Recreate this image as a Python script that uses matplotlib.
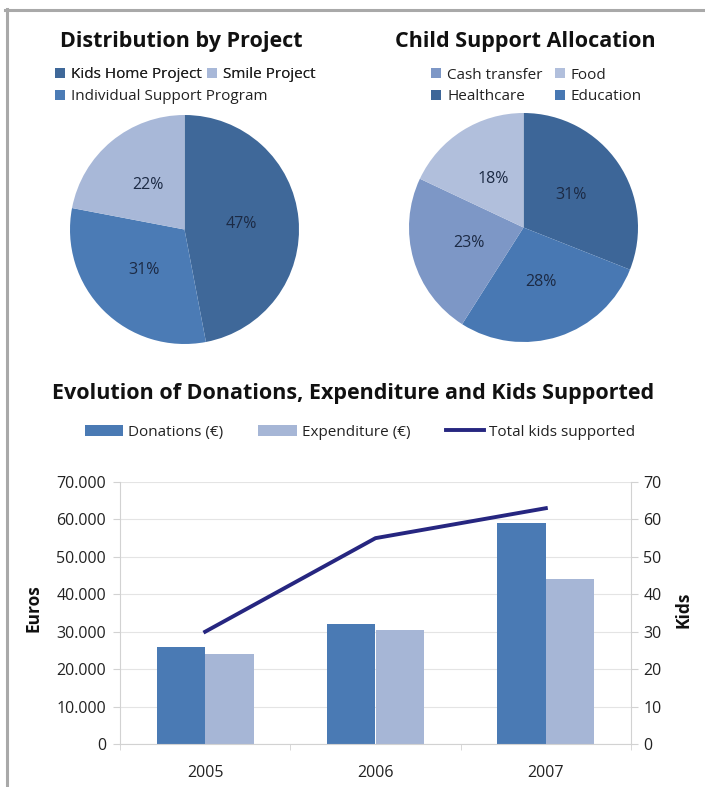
import numpy as np
import matplotlib
matplotlib.use("Agg")
import matplotlib.pyplot as plt
from matplotlib.lines import Line2D
from matplotlib.ticker import FuncFormatter, FixedLocator

plt.rcParams['font.family'] = ['Open Sans', 'DejaVu Sans']

# Data
proj_labels = ["Kids Home Project", "Individual Support Program", "Smile Project"]
proj_values = [47, 31, 22]
proj_colors = ["#3f6899", "#4b7bb5", "#a8b8d8"]

alloc_labels = ["Healthcare", "Education", "Cash transfer", "Food"]
alloc_values = [31, 28, 23, 18]
alloc_colors = ["#3d6698", "#4878b3", "#7d97c6", "#b1bfdc"]

years = ["2005", "2006", "2007"]
donations = [26000, 32000, 59000]
expenditure = [24000, 30500, 44000]
kids = [30, 55, 63]

W, H = 705, 787
fig = plt.figure(figsize=(W / 100, H / 100), dpi=100)
fig.patch.set_facecolor("white")


def fx(px):
    return px / W


def fy(py):
    return 1 - py / H


# gray frame lines (top and left)
fig.add_artist(Line2D([fx(5), 1], [fy(9.5), fy(9.5)], transform=fig.transFigure,
                      color="#a9a9a9", lw=2.2))
fig.add_artist(Line2D([fx(6.5), fx(6.5)], [0, fy(8.5)], transform=fig.transFigure,
                      color="#a9a9a9", lw=2.2))

txt_color = "#1c2a44"
pct_props = dict(color=txt_color, fontsize=11.5)

# Pie 1
ax1 = fig.add_axes([fx(70), fy(344), fx(229), 229 / H])
w1, _, _ = ax1.pie(proj_values, colors=proj_colors, startangle=90, counterclock=False,
                   autopct=lambda p: f"{p:.0f}%", pctdistance=0.5, textprops=pct_props)
ax1.set_xlim(-1, 1)
ax1.set_ylim(-1, 1)

# Pie 2
ax2 = fig.add_axes([fx(409), fy(342), fx(229), 229 / H])
w2, _, _ = ax2.pie(alloc_values, colors=alloc_colors, startangle=90, counterclock=False,
                   autopct=lambda p: f"{p:.0f}%", pctdistance=0.5, textprops=pct_props)
ax2.set_xlim(-1, 1)
ax2.set_ylim(-1, 1)

# Titles
title_props = dict(fontsize=15.5, fontweight="bold", color="#111111", ha="center", va="center")
fig.text(fx(181), fy(41), "Distribution by Project", **title_props)
fig.text(fx(525), fy(41), "Child Support Allocation", **title_props)
fig.text(fx(353), fy(393), "Evolution of Donations, Expenditure and Kids Supported", **title_props)

# pie legends
leg_kw = dict(frameon=False, fontsize=11, handlelength=0.65, handleheight=0.65,
              handletextpad=0.4, borderpad=0, borderaxespad=0, labelcolor="#222222")
lg1 = fig.legend([w1[0], w1[2]], [proj_labels[0], proj_labels[2]], ncol=2,
                 columnspacing=0.35, loc="center left",
                 bbox_to_anchor=(fx(55), fy(75)), **leg_kw)
fig.add_artist(lg1)
fig.legend([w1[1]], [proj_labels[1]], loc="center left",
           bbox_to_anchor=(fx(55), fy(97)), **leg_kw)
fig.legend([w2[2], w2[0], w2[3], w2[1]],
           [alloc_labels[2], alloc_labels[0], alloc_labels[3], alloc_labels[1]],
           ncol=2, columnspacing=0.8, labelspacing=0.45, loc="center left",
           bbox_to_anchor=(fx(431), fy(86)), **leg_kw)

# Bar chart
ax3 = fig.add_axes([fx(120), fy(744), fx(631) - fx(120), 262 / H])
ax4 = ax3.twinx()
x = np.arange(len(years))
bw = 0.285
b1 = ax3.bar(x - bw / 2, donations, bw, color="#4a7ab4", label="Donations (€)")
b2 = ax3.bar(x + bw / 2, expenditure, bw, color="#a6b6d6", label="Expenditure (€)")
l1, = ax4.plot(x, kids, color="#262680", lw=2.8, label="Total kids supported")

ax3.set_xlim(-0.5, 2.5)
ax3.set_ylim(0, 70000)
ax4.set_ylim(0, 70)
ax3.set_yticks(np.arange(0, 70001, 10000))
ax4.set_yticks(np.arange(0, 71, 10))
ax3.yaxis.set_major_formatter(FuncFormatter(lambda v, p: f"{int(v):,}".replace(",", ".")))
ax3.set_xticks(x)
ax3.set_xticklabels(years)
ax3.xaxis.set_minor_locator(FixedLocator([-0.5, 0.5, 1.5, 2.5]))

ax3.yaxis.grid(True, color="#e4e4e4", lw=0.8)
ax3.set_axisbelow(True)

gray = "#d2d2d2"
for a in (ax3, ax4):
    a.spines["top"].set_visible(False)
ax3.spines["right"].set_visible(False)
ax4.spines["left"].set_visible(False)
ax4.spines["bottom"].set_visible(False)
ax3.spines["left"].set_color(gray)
ax3.spines["bottom"].set_color(gray)
ax4.spines["right"].set_color(gray)

ax3.tick_params(axis="y", length=5, color=gray, labelsize=11.5, pad=5, labelcolor="#222222")
ax4.tick_params(axis="y", length=5, color=gray, labelsize=11.5, pad=4, labelcolor="#222222")
ax3.tick_params(axis="x", which="major", length=0, labelsize=11.5, pad=15, labelcolor="#222222")
ax3.tick_params(axis="x", which="minor", length=4, color=gray)

fig.text(fx(33), fy(608), "Euros", rotation=90, fontsize=12.5, fontweight="bold",
         ha="center", va="center", color="#111111")
fig.text(fx(684), fy(610), "Kids", rotation=90, fontsize=12.5, fontweight="bold",
         ha="center", va="center", color="#111111")

fig.legend([b1, b2, l1], ["Donations (€)", "Expenditure (€)", "Total kids supported"],
           ncol=3, loc="center", bbox_to_anchor=(fx(360), fy(432)), frameon=False,
           fontsize=11, handlelength=2.5, handletextpad=0.35, columnspacing=2.3,
           borderpad=0, labelcolor="#222222")

fig.savefig("out.png", dpi=100, facecolor="white")
